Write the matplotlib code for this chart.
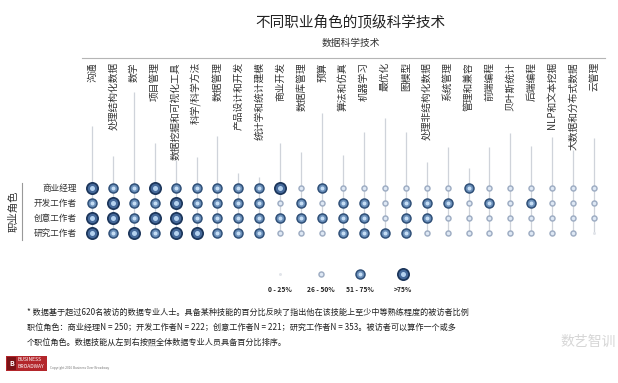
import matplotlib
matplotlib.use("Agg")
import matplotlib.pyplot as plt
from matplotlib.patches import Rectangle

plt.rcParams['font.family'] = ['Noto Sans CJK SC', 'DejaVu Sans']

# skills, left to right
skills = ["沟通", "处理结构化数据", "数学", "项目管理", "数据挖掘和可视化工具",
          "科学/科学方法", "数据管理", "产品设计和开发", "统计学和统计建模", "商业开发",
          "数据库管理", "预算", "算法和仿真", "机器学习", "最优化", "图模型",
          "处理非结构化数据", "系统管理", "管理和兼容", "前端编程", "贝叶斯统计",
          "后端编程", "NLP和文本挖掘", "大数据和分布式数据", "云管理"]
roles = ["商业经理", "开发工作者", "创意工作者", "研究工作者"]

# 1: 0-25%, 2: 26-50%, 3: 51-75%, 4: >75%
lvl_manager = [4, 3, 3, 4, 3, 3, 3, 3, 3, 4, 2, 3, 2, 2, 2, 2, 2, 2, 3, 2, 2, 2, 2, 2, 2]
lvl_developer = [3, 4, 3, 3, 4, 3, 3, 3, 3, 2, 3, 2, 3, 3, 2, 3, 3, 3, 2, 3, 2, 3, 2, 2, 2]
lvl_creative = [4, 4, 3, 4, 4, 3, 3, 3, 3, 3, 3, 3, 3, 3, 2, 3, 3, 2, 2, 2, 2, 2, 2, 2, 2]
lvl_researcher = [4, 3, 4, 3, 4, 4, 3, 3, 3, 2, 2, 2, 3, 3, 3, 3, 2, 2, 2, 2, 2, 2, 2, 2, 1]
levels = [lvl_manager, lvl_developer, lvl_creative, lvl_researcher]

# stem length above the first row (in row-spacing / 15 units)
stem = [62, 32, 96, 45, 28, 31, 52, 15, 11, 45, 36, 75, 33, 56, 70, 56,
        26, 41, 20, 41, 55, 42, 51, 38, 50]

legend_levels = [1, 2, 3, 4]
legend_labels = ["0 - 25%", "26 - 50%", "51 - 75%", ">75%"]

# layered circles to fake the radial gradient: (diameter px, colour)
STYLE = {
    1: [(3.0, "#e2e5ea")],
    2: [(6.5, "#9eadc3"), (3.5, "#dfe9f5")],
    3: [(10.5, "#2f4f77"), (7.5, "#6a8fba"), (4.0, "#c6def5")],
    4: [(13.0, "#1b355a"), (9.5, "#45699a"), (5.0, "#b5d2ef")],
}


def draw_dot(ax, x, y, lvl, **kw):
    for i, (d, c) in enumerate(STYLE[lvl]):
        ax.scatter([x], [y], s=(d * 0.72) ** 2, color=c, linewidths=0,
                   zorder=3 + i, **kw)


fig = plt.figure(figsize=(6.18, 3.83), dpi=100)
W, H = 618, 383

canvas = fig.add_axes([0, 0, 1, 1])
canvas.set_xlim(0, W)
canvas.set_ylim(H, 0)
canvas.axis("off")

# matrix axes: columns -0.5..24.5 over px 81.5..604.5, rows spaced 15px
top_px, bot_px = 58, 245
ax = fig.add_axes([81.5 / W, (H - bot_px) / H, 523 / W, (bot_px - top_px) / H])
ax.set_xlim(-0.5, len(skills) - 0.5)
ax.set_ylim((bot_px - 188) / 15, -(188 - top_px) / 15)
ax.axis("off")

for j, name in enumerate(skills):
    ax.plot([j, j], [-stem[j] / 15, len(roles) - 1], color="#cfd3da", lw=0.9,
            zorder=1, solid_capstyle="butt")
    ax.text(j, -(188 - 62) / 15, name, rotation=90, ha="center", va="top",
            fontsize=7, color="#333333", zorder=6,
            bbox=dict(facecolor="white", edgecolor="none", pad=0.3))
    for i in range(len(roles)):
        draw_dot(ax, j, i, levels[i][j])

for i, r in enumerate(roles):
    canvas.text(77, 188 + 15 * i, r, ha="right", va="center", fontsize=6.2,
                color="#333333")

canvas.plot([22, 22], [183, 240], color="#999999", lw=0.8)
canvas.text(13, 211, "职业角色", rotation=90, ha="center", va="center",
            fontsize=7.5, color="#333333")

# header
canvas.text(350, 22, "不同职业角色的顶级科学技术", ha="center", va="center",
            fontsize=10.5, color="#222222")
canvas.text(351, 43, "数据科学技术", ha="center", va="center", fontsize=7,
            color="#333333")
canvas.plot([82, 605], [58, 58], color="#b5b5b5", lw=0.8)

# legend
for k, (lv, lab) in enumerate(zip(legend_levels, legend_labels)):
    lx = [280, 321, 360, 403][k]
    draw_dot(canvas, lx, 274, lv)
    canvas.text(lx, 289, lab, ha="center", va="center", fontsize=4.8,
                fontweight="bold", color="#222222")

# footnote
notes = [
    "* 数据基于超过620名被访的数据专业人士。具备某种技能的百分比反映了指出他在该技能上至少中等熟练程度的被访者比例",
    "职位角色：商业经理N = 250；开发工作者N = 222；创意工作者N = 221；研究工作者N = 353。被访者可以算作一个或多",
    "个职位角色。数据技能从左到右按照全体数据专业人员具备百分比排序。",
]
for k, line in enumerate(notes):
    canvas.text(27, 312 + 15 * k, line, ha="left", va="center", fontsize=5.85,
                color="#222222")

# watermark
canvas.text(560, 342, "数艺智训", ha="left", va="center", fontsize=10,
            color="#d6d6d6")

# logo
canvas.add_patch(Rectangle((6, 356), 41, 15, facecolor="#b3262b", edgecolor="none"))
canvas.add_patch(Rectangle((7, 357), 9, 13, facecolor="#7a1216", edgecolor="none"))
canvas.text(11.5, 363.5, "B", ha="center", va="center", fontsize=5,
            color="white", fontweight="bold")
canvas.text(18, 359.5, "BUSINESS", ha="left", va="center", fontsize=3.6,
            color="white")
canvas.text(18, 367, "BROADWAY", ha="left", va="center", fontsize=3.6,
            color="white")
canvas.text(50, 368, "Copyright 2016 Business Over Broadway", ha="left",
            va="center", fontsize=2.3, color="#777777")

fig.savefig("out.png", dpi=100)
